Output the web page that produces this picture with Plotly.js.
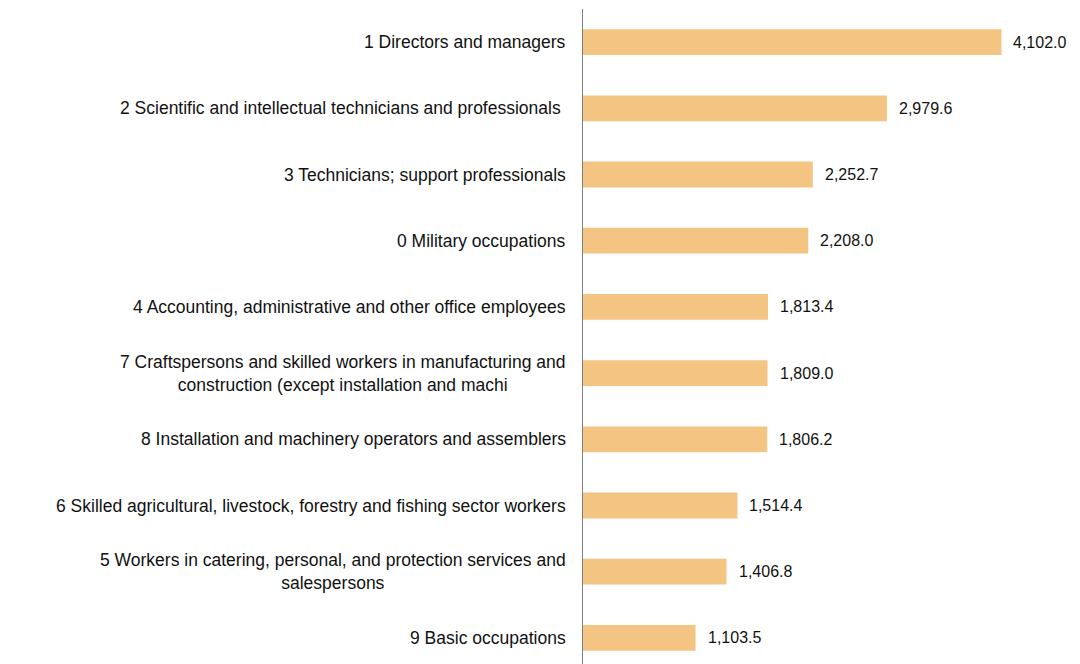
<!DOCTYPE html>
<html>
<head>
<meta charset="utf-8">
<script src="https://cdn.plot.ly/plotly-3.0.1.min.js"></script>
<style>html,body{margin:0;padding:0;background:#fff;}#chart{width:1080px;height:664px;}</style>
</head>
<body>
<div id="chart"></div>
<script>
const categories = [
  "1 Directors and managers",
  "2 Scientific and intellectual technicians and professionals ",
  "3 Technicians; support professionals",
  "0 Military occupations",
  "4 Accounting, administrative and other office employees",
  "7 Craftspersons and skilled workers in manufacturing and<br>construction (except installation and machi",
  "8 Installation and machinery operators and assemblers",
  "6 Skilled agricultural, livestock, forestry and fishing sector workers",
  "5 Workers in catering, personal, and protection services and<br>salespersons",
  "9 Basic occupations"
];
const values = [4102.0, 2979.6, 2252.7, 2208.0, 1813.4, 1809.0, 1806.2, 1514.4, 1406.8, 1103.5];
const valueLabels = ["4,102.0", "2,979.6", "2,252.7", "2,208.0", "1,813.4", "1,809.0", "1,806.2", "1,514.4", "1,406.8", "1,103.5"];

const idx = categories.map((c, i) => i);
const labelFont = {family: "Liberation Sans, Arial, sans-serif", size: 17.5, color: "#111111"};
const valueFont = {family: "Liberation Sans, Arial, sans-serif", size: 16, color: "#111111"};

const annotations = [];
categories.forEach((c, i) => {
  annotations.push({
    x: 0, y: i, xref: 'x', yref: 'y', text: c, showarrow: false,
    xanchor: 'right', yanchor: 'middle', align: 'center', xshift: -15,
    font: labelFont
  });
  annotations.push({
    x: values[i], y: i, xref: 'x', yref: 'y', text: valueLabels[i], showarrow: false,
    xanchor: 'left', yanchor: 'middle', xshift: 10,
    font: valueFont
  });
});

const trace = {
  type: 'bar', orientation: 'h',
  x: values, y: idx,
  marker: {color: '#F4C483'},
  width: 0.39,
  hoverinfo: 'none'
};

const layout = {
  width: 1080, height: 664,
  margin: {l: 583, r: 20, t: 9, b: 0},
  paper_bgcolor: '#fff', plot_bgcolor: '#fff',
  showlegend: false,
  xaxis: {range: [0, 4676], showgrid: false, zeroline: false, showticklabels: false, showline: false, ticks: ''},
  yaxis: {range: [9.394, -0.5], showgrid: false, zeroline: false, showticklabels: false,
          showline: true, linecolor: '#808080', linewidth: 1.5, ticks: ''},
  annotations: annotations
};

Plotly.newPlot('chart', [trace], layout, {displayModeBar: false, staticPlot: true});
</script>
</body>
</html>
